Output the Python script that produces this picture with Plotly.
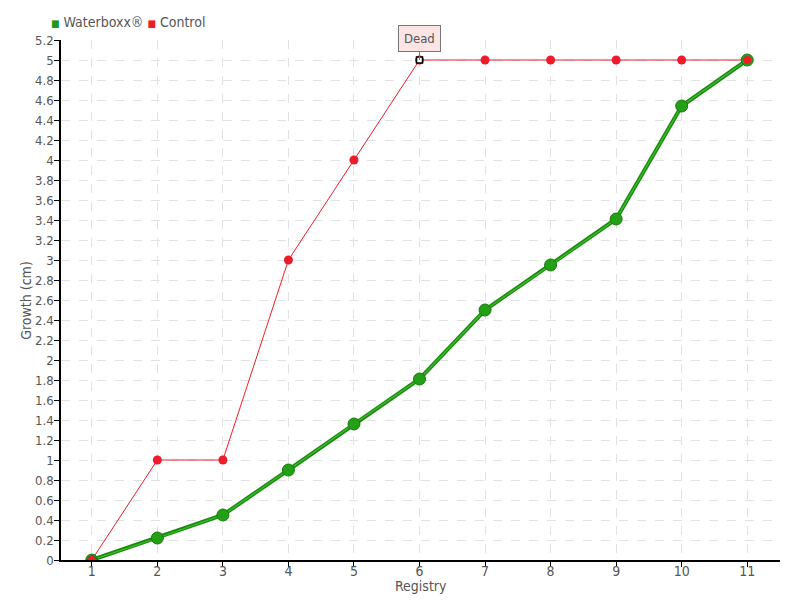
import plotly.graph_objects as go

registry = [1, 2, 3, 4, 5, 6, 7, 8, 9, 10, 11]
waterboxx = [0, 0.22, 0.45, 0.9, 1.36, 1.81, 2.5, 2.95, 3.41, 4.54, 5.0]
control = [0, 1, 1, 3, 4, 5, 5, 5, 5, 5, 5]
y_ticks = [round(i * 0.2, 1) for i in range(27)]
y_tick_labels = [("%g" % v) for v in y_ticks]
dead_index = 5

FONT = "DejaVu Sans Condensed, DejaVu Sans, sans-serif"
GREEN = "#1f9a12"
RED = "#ee1c2a"

fig = go.Figure()

# Control (red)
fig.add_trace(go.Scatter(
    x=registry, y=control, mode="lines+markers", showlegend=False,
    line=dict(color=RED, width=1),
    marker=dict(color=RED, size=9),
))

# Waterboxx (green) – double line effect
fig.add_trace(go.Scatter(
    x=registry, y=waterboxx, mode="lines", showlegend=False,
    line=dict(color="#1a8a0e", width=4), hoverinfo="skip",
))
fig.add_trace(go.Scatter(
    x=registry, y=waterboxx, mode="lines+markers", showlegend=False,
    line=dict(color="#3cc02c", width=1.2),
    marker=dict(color="#22a016", size=12, line=dict(color="#1a7a10", width=1)),
))

# Control end point overlays the green marker at 11
fig.add_trace(go.Scatter(
    x=registry[-1:], y=control[-1:], mode="markers", showlegend=False,
    marker=dict(color=RED, size=8), hoverinfo="skip",
))
# Control start point on top
fig.add_trace(go.Scatter(
    x=registry[:1], y=control[:1], mode="markers", showlegend=False,
    marker=dict(color=RED, size=9, line=dict(color="#1a7a10", width=1)), hoverinfo="skip",
))

# Highlighted "Dead" point
fig.add_trace(go.Scatter(
    x=[registry[dead_index]], y=[control[dead_index]], mode="markers", showlegend=False,
    marker=dict(color="white", size=6, symbol="square", line=dict(color="black", width=1.5)),
    hoverinfo="skip",
))

fig.add_annotation(
    x=registry[dead_index], y=control[dead_index], text="Dead",
    showarrow=True, arrowhead=0, arrowwidth=1, arrowcolor="#777777",
    ax=0, ay=-22, bgcolor="#fde4e4", bordercolor="#777777", borderwidth=1,
    borderpad=5, font=dict(family=FONT, size=13, color="#555555"),
)

# Legend drawn as text
fig.add_annotation(
    xref="paper", yref="paper", x=-0.017, y=1.0, xanchor="left", yanchor="bottom",
    yshift=8, showarrow=False, align="left",
    text=(f'<span style="color:{GREEN};font-size:10px">■</span> Waterboxx® '
          f'<span style="color:{RED};font-size:10px">■</span> Control'),
    font=dict(family=FONT, size=14, color="#555555"),
)

# X axis title
fig.add_annotation(
    xref="paper", yref="paper", x=0.5, y=0, xanchor="center", yanchor="top",
    yshift=-16, showarrow=False, text="Registry",
    font=dict(family=FONT, size=14, color="#555555"),
)
# Y axis title
fig.add_annotation(
    xref="paper", yref="paper", x=-0.049, y=0.5, xanchor="center", yanchor="middle",
    textangle=-90, showarrow=False, text="Growth (cm)",
    font=dict(family=FONT, size=14, color="#555555"),
)

fig.update_layout(
    width=800, height=600,
    paper_bgcolor="white", plot_bgcolor="white",
    margin=dict(l=61, r=20, t=40, b=40, autoexpand=False),
    font=dict(family=FONT, size=14, color="#555555"),
    showlegend=False,
    hovermode="closest",
)

fig.update_xaxes(
    range=[0.53, 11.5], tickmode="array", tickvals=registry,
    showline=True, linecolor="black", linewidth=1.5,
    ticks="outside", ticklen=5, tickcolor="black",
    ticklabelstandoff=-8,
    showgrid=True, gridcolor="#e2e2e2", griddash="dash", gridwidth=1,
    zeroline=False,
    tickfont=dict(size=14, color="#555555"),
)
fig.update_yaxes(
    range=[0, 5.2], tickmode="array", tickvals=y_ticks, ticktext=y_tick_labels,
    showline=True, linecolor="black", linewidth=1.5,
    ticks="outside", ticklen=5, tickcolor="black",
    ticklabelstandoff=-2,
    showgrid=True, gridcolor="#e2e2e2", griddash="dash", gridwidth=1,
    zeroline=False,
    tickfont=dict(size=13, color="#555555"),
)

fig.write_html("out.html", config={"displayModeBar": False},
               post_script="document.body.style.margin='0px';")
